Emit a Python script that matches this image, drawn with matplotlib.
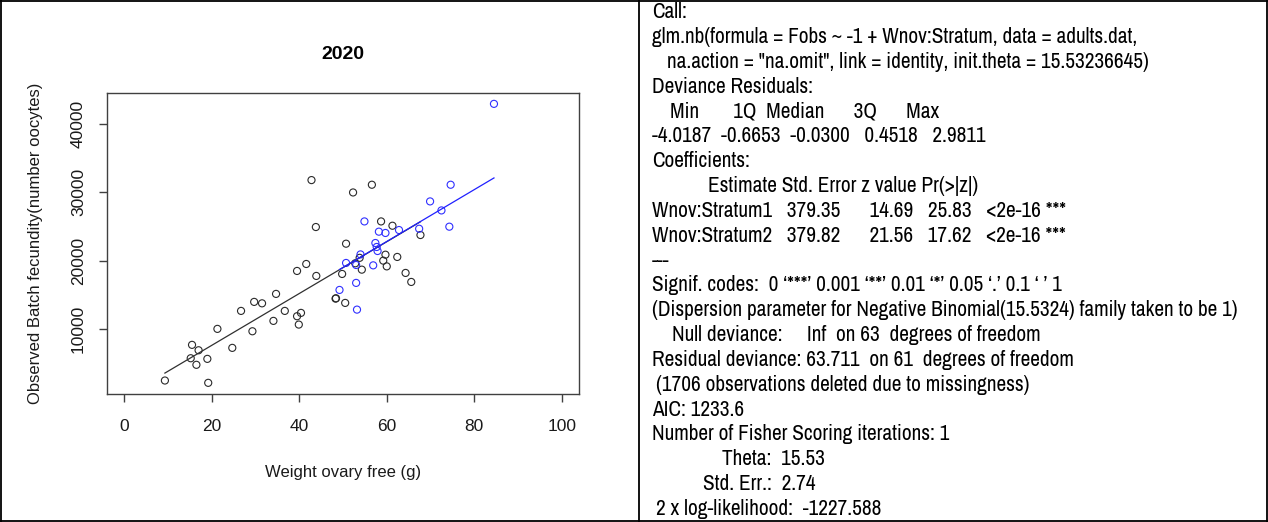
import numpy as np
import matplotlib
matplotlib.use("Agg")
import matplotlib.pyplot as plt
from matplotlib import font_manager

# stratum 1 (black) points: ovary weight (g), batch fecundity
w1 = [9.3, 19.2, 15.5, 17.0, 15.2, 16.5, 19.0, 21.3, 24.7, 26.7, 29.3, 29.7,
      31.5, 34.7, 34.1, 36.7, 39.5, 40.4, 39.9, 39.5, 41.6, 43.9, 42.8, 43.8,
      50.7, 52.3, 56.6, 48.3, 48.4, 50.5, 49.8, 52.8, 54.3, 58.7, 61.3, 67.7,
      59.7, 59.2, 60.0, 62.4, 64.3, 65.6, 53.8]
f1 = [2440, 2100, 7660, 6870, 5700, 4740, 5610, 10000, 7220, 12630, 9650, 13950,
      13740, 15120, 11170, 12630, 11850, 12340, 10630, 18480, 19500, 17750, 31780, 24910,
      22470, 29970, 31100, 14430, 14480, 13800, 18040, 19600, 18670, 25730, 25100, 23740,
      20860, 19990, 19150, 20530, 18190, 16870, 20400]
# stratum 2 (blue)
w2 = [84.5, 74.6, 69.9, 72.5, 74.3, 54.9, 58.2, 59.7, 62.8, 67.4, 57.4, 57.7,
      57.9, 50.7, 49.2, 53.0, 53.2, 56.9, 54.0, 53.0]
f2 = [42940, 31100, 28660, 27340, 24960, 25730, 24230, 24040, 24470, 24660, 22570, 21990,
      21400, 19650, 15700, 16730, 12820, 19300, 20900, 19350]
coef = [379.35, 379.82]

xticks = [0, 20, 40, 60, 80, 100]
yticks = [10000, 20000, 30000, 40000]

# R output: (x start in px, text), one entry per line
out_lines = [
    (652, "Call:"),
    (652, "glm.nb(formula = Fobs ~ -1 + Wnov:Stratum, data = adults.dat,"),
    (667, "na.action = \"na.omit\", link = identity, init.theta = 15.53236645)"),
    (652, "Deviance Residuals:"),
    (670, "Min       1Q  Median      3Q      Max"),
    (652, "-4.0187  -0.6653  -0.0300   0.4518   2.9811"),
    (652, "Coefficients:"),
    (708, "Estimate Std. Error z value Pr(>|z|)"),
    (652, "Wnov:Stratum1   379.35      14.69   25.83   <2e-16 ***"),
    (652, "Wnov:Stratum2   379.82      21.56   17.62   <2e-16 ***"),
    (652, "---"),
    (652, "Signif. codes:  0 \u2018***\u2019 0.001 \u2018**\u2019 0.01 \u2018*\u2019 0.05 \u2018.\u2019 0.1 \u2018 \u2019 1"),
    (652, "(Dispersion parameter for Negative Binomial(15.5324) family taken to be 1)"),
    (672, "Null deviance:     Inf  on 63  degrees of freedom"),
    (652, "Residual deviance: 63.711  on 61  degrees of freedom"),
    (656, "(1706 observations deleted due to missingness)"),
    (652, "AIC: 1233.6"),
    (652, "Number of Fisher Scoring iterations: 1"),
    (722, "Theta:  15.53"),
    (703, "Std. Err.:  2.74"),
    (656, "2 x log-likelihood:  -1227.588"),
]


def pick(names):
    for n in names:
        try:
            font_manager.findfont(font_manager.FontProperties(family=n),
                                  fallback_to_default=False)
            return n
        except Exception:
            pass
    return "DejaVu Sans"


narrow = pick(["Liberation Sans Narrow", "Arial Narrow", "Archivo Narrow",
               "Roboto Condensed", "PT Sans Narrow", "Liberation Sans"])
sans = pick(["Liberation Sans", "Arial", "Arimo", "DejaVu Sans"])

W, H = 1268, 522
fig = plt.figure(figsize=(W / 100, H / 100), dpi=100)
fig.patch.set_facecolor("white")

# table borders
bx = fig.add_axes([0, 0, 1, 1], zorder=-1)
bx.set_xlim(0, W)
bx.set_ylim(H, 0)
bx.axis("off")
for seg in [([1, 1], [0, H]), ([639, 639], [0, H]), ([W - 1, W - 1], [0, H]),
            ([0, W], [1, 1]), ([0, W], [H - 1, H - 1])]:
    bx.plot(seg[0], seg[1], color="black", lw=1.3, solid_capstyle="butt")

# scatter plot
L, R_, T, B = 106.7, 579.3, 92.7, 394.0
ax = fig.add_axes([L / W, 1 - B / H, (R_ - L) / W, (B - T) / H])
ax.scatter(w1, f1, s=26, facecolors="none", edgecolors="#2a2a2a", linewidths=0.8)
ax.scatter(w2, f2, s=26, facecolors="none", edgecolors="#3030ff", linewidths=0.8)
for w, c, col in [(w1, coef[0], "#303030"), (w2, coef[1], "#2020ff")]:
    xs = np.sort(np.array(w))
    ax.plot(xs, c * xs, color=col, lw=0.9)

ymin, ymax = min(f1 + f2), max(f1 + f2)
pad = 0.04 * (ymax - ymin)
ax.set_xlim(-4, 104)
ax.set_ylim(ymin - pad, ymax + pad)
ax.set_xticks(xticks)
ax.set_yticks(yticks)
ax.set_yticklabels([str(v) for v in yticks], rotation=90, va="center")
for s in ax.spines.values():
    s.set_color("#404040")
    s.set_linewidth(1.0)
ax.tick_params(direction="out", length=6, width=1.0, color="#404040",
               labelsize=12.5, labelcolor="#1a1a1a", pad=9)
ax.tick_params(axis="x", pad=12)
for lab in ax.get_xticklabels() + ax.get_yticklabels():
    lab.set_family(sans)
ax.set_title("2020", fontsize=14, fontweight="bold", family=sans, pad=24)
ax.set_xlabel("Weight ovary free (g)", fontsize=12, family=sans, labelpad=22, color="#1a1a1a")
ax.set_ylabel("Observed Batch fecundity(number oocytes)", fontsize=12, family=sans,
              labelpad=20, color="#1a1a1a")

# R output text
y0, dy = 12, 24.85
fs = 15.3
for i, (x, s) in enumerate(out_lines):
    fig.text(x / W, 1 - (y0 + i * dy) / H, s, fontsize=fs, family=narrow,
             va="center", ha="left")

fig.savefig("out.png", dpi=100)
